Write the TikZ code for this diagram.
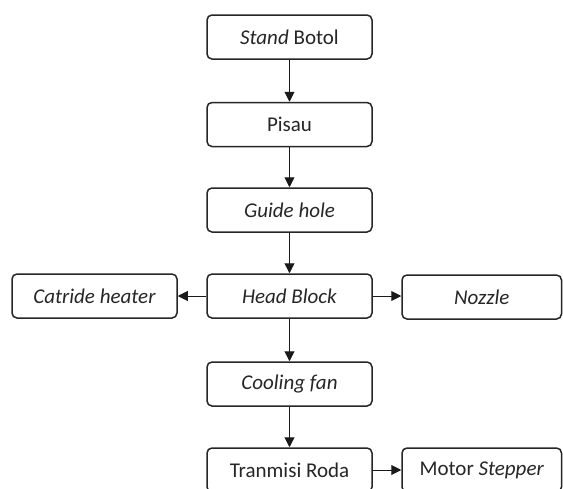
\documentclass[tikz,border=0pt]{standalone}
\usepackage{fontspec}
\setmainfont{Carlito}
\usetikzlibrary{arrows.meta}
\definecolor{boxc}{HTML}{262626}
\definecolor{txtc}{HTML}{262626}
\definecolor{arrc}{HTML}{1A1A1A}
\begin{document}
\begin{tikzpicture}[x=1pt,y=-1pt,
  box/.style={draw=boxc, line width=1.5pt, rounded corners=5pt, minimum width=165pt, minimum height=44pt, inner sep=0pt, font=\fontsize{21}{25}\selectfont, text=txtc},
  sbox/.style={box, minimum width=159.5pt},
  arr/.style={-{Triangle[length=10pt,width=10pt]}, line width=1pt, draw=arrc}]
\clip (0,0) rectangle (563,488);
\fill[white] (0,0) rectangle (563,488);
\node[box] (stand) at (289.5,37) {\textit{Stand} Botol};
\node[box] (pisau) at (289.5,124.5) {Pisau};
\node[box] (guide) at (289.5,210) {\textit{Guide hole}};
\node[box] (head) at (289.5,296) {\textit{Head Block}};
\node[box] (catride) at (94.5,296) {\textit{Catride heater}};
\node[sbox] (nozzle) at (481.75,297) {\textit{Nozzle}};
\node[box] (cooling) at (289.5,384) {\textit{Cooling fan}};
\node[box] (trans) at (289.5,470) {Tranmisi Roda};
\node[sbox] (motor) at (481.75,470) {Motor \textit{Stepper}};
\draw[arr] (stand) -- (pisau);
\draw[arr] (pisau) -- (guide);
\draw[arr] (guide) -- (head);
\draw[arr] (head) -- (catride);
\draw[arr] (head.east) -- (nozzle.west |- head.east);
\draw[arr] (head) -- (cooling);
\draw[arr] (cooling) -- (trans);
\draw[arr] (trans) -- (motor);
\end{tikzpicture}
\end{document}
